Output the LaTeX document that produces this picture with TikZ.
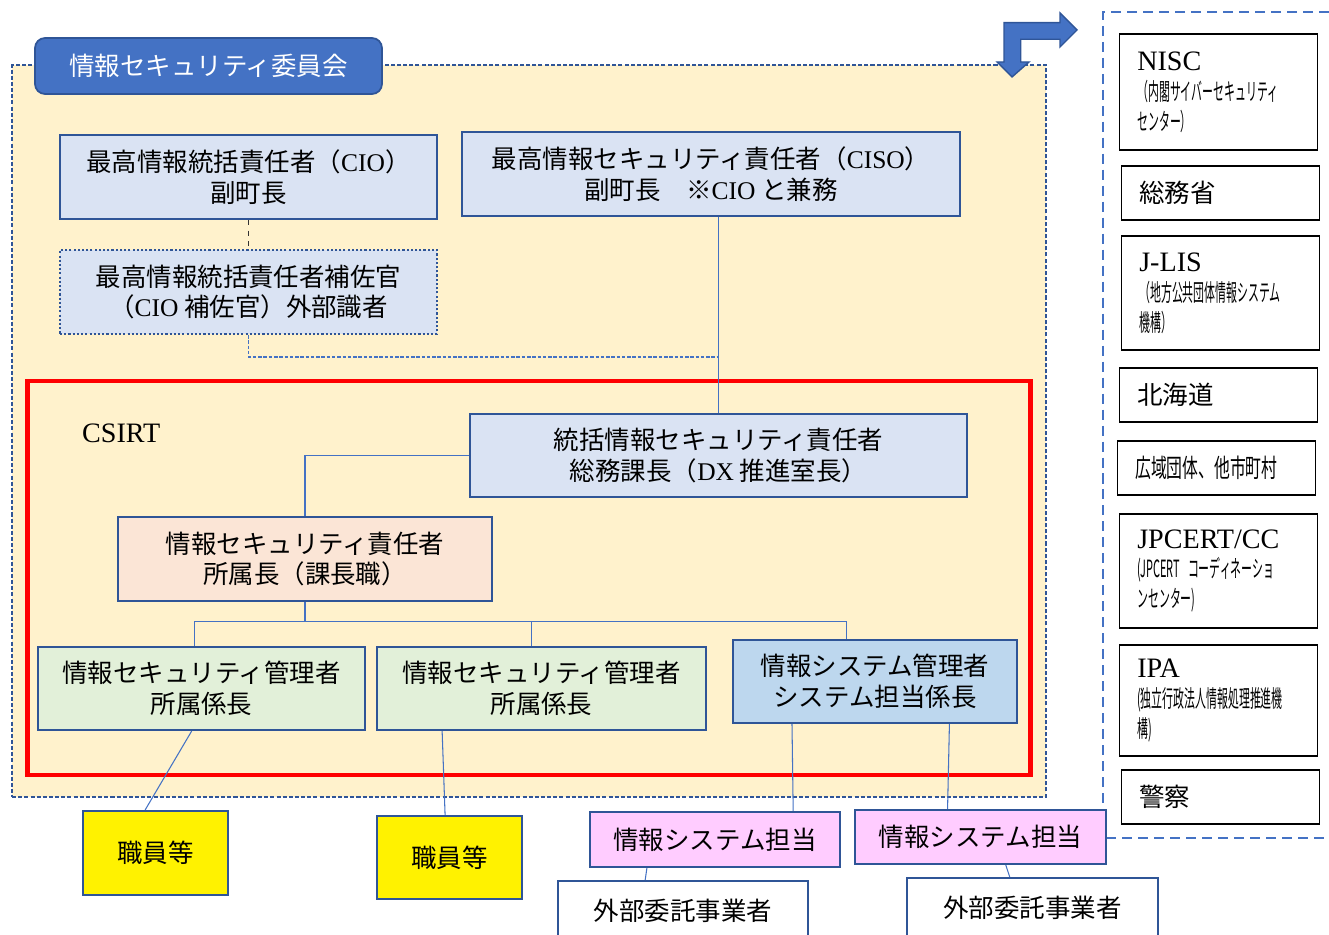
\documentclass[tikz,border=0pt]{standalone}
\usepackage{fontspec}
\setmainfont{Noto Sans CJK JP}
\newfontfamily\latinserif{Liberation Serif}
\newfontfamily\cjknarrow[FakeStretch=0.46]{Noto Sans CJK JP}
\newfontfamily\cjksemi[FakeStretch=0.62]{Noto Sans CJK JP}
\usepackage{tikz}
\usetikzlibrary{positioning,calc}

\definecolor{tan}{HTML}{FFF2CC}
\definecolor{dkblue}{HTML}{2F5597}
\definecolor{accent}{HTML}{4472C4}
\definecolor{lineblue}{HTML}{4472C4}
\definecolor{boxblue}{HTML}{DAE3F3}
\definecolor{peach}{HTML}{FBE5D6}
\definecolor{mgrgreen}{HTML}{E2F0D9}
\definecolor{sysblue}{HTML}{BDD7EE}
\definecolor{pinkbox}{HTML}{FFCCFF}

\begin{document}
\begin{tikzpicture}[x=0.02cm, y=-0.02cm,
  box/.style={draw=dkblue, line width=1.3pt, align=center, inner sep=0pt, font=\fontsize{14.5}{17.5}\selectfont},
  org/.style={draw=black, line width=0.8pt, fill=white, align=left, text width=3.25cm, inner xsep=0.35cm, inner ysep=0pt, font=\fontsize{14.5}{17}\selectfont},
  link/.style={draw=lineblue, line width=0.6pt}]

\useasboundingbox (0,0) rectangle (1329,935);

% committee area
\node[draw=dkblue, line width=1.2pt, dash pattern=on 2.3pt off 1.2pt, fill=tan, minimum width=20.68cm, minimum height=14.64cm, inner sep=0pt] (committee) at (529,431) {};
\node[rounded corners=0.2cm, fill=accent, draw=dkblue, line width=1pt, text=white, minimum width=6.94cm, minimum height=1.12cm, font=\fontsize{14.5}{17}\selectfont] (title) at (208.5,66) {情報セキュリティ委員会};

% bent arrow
\filldraw[fill=accent, draw=dkblue, line width=0.8pt] (1012,77) -- (1029,62) -- (1020.7,62) -- (1020.7,39.3) -- (1060,39.3) -- (1060,47) -- (1077,30) -- (1060,13) -- (1060,22.7) -- (1004,22.7) -- (1004,62) -- (997,62) -- cycle;

% outside organisations
\draw[accent, line width=1.3pt, dash pattern=on 5.7pt off 3.4pt] (1329,12) -| (1103,838) -- (1329,838);

\node[org, minimum height=2.32cm, font=\fontsize{13.5}{17}\selectfont] (nisc) at (1218.5,92) {{\latinserif\fontsize{16}{17}\selectfont NISC}\\{\cjknarrow （内閣サイバーセキュリティ}\\{\cjknarrow センター）}};
\node[org, minimum height=1.08cm] (soumu) at (1220.5,193) {総務省};
\node[org, minimum height=2.28cm, font=\fontsize{13.5}{17}\selectfont] (jlis) at (1220.5,293) {{\latinserif\fontsize{16}{17}\selectfont J-LIS}\\{\cjknarrow （地方公共団体情報システム}\\{\cjknarrow 機構）}};
\node[org, minimum height=1.08cm] (hokkaido) at (1218.5,395) {北海道};
\node[org, minimum height=1.08cm] (kouiki) at (1216.5,468) {\cjksemi 広域団体、他市町村};
\node[org, minimum height=2.28cm, font=\fontsize{13.5}{17}\selectfont] (jpcert) at (1218.5,571) {{\latinserif\fontsize{16}{17}\selectfont JPCERT/CC}\\{\cjknarrow (JPCERT~コーディネーショ}\\{\cjknarrow ンセンター)}};
\node[org, minimum height=2.22cm, font=\fontsize{13.5}{17}\selectfont] (ipa) at (1218.5,700.5) {{\latinserif\fontsize{16}{17}\selectfont IPA}\\{\cjknarrow (独立行政法人情報処理推進機}\\{\cjknarrow 構)}};
\node[org, minimum height=1.08cm] (police) at (1220.5,797) {警察};

% top level
\node[box, fill=boxblue, minimum width=7.54cm, minimum height=1.68cm] (cio) at (248.5,177) {最高情報統括責任者（{\latinserif CIO}）\\副町長};
\node[box, fill=boxblue, minimum width=9.96cm, minimum height=1.68cm] (ciso) at (711,174) {最高情報セキュリティ責任者（{\latinserif CISO}）\\副町長　※{\latinserif CIO} と兼務};
\node[box, fill=boxblue, line width=1.2pt, dash pattern=on 1.2pt off 1.2pt, minimum width=7.54cm, minimum height=1.68cm] (cioa) at (248.5,292) {最高情報統括責任者補佐官\\（{\latinserif CIO} 補佐官）外部識者};

% CSIRT
\node[draw=red, line width=2.8pt, minimum width=20.08cm, minimum height=7.88cm, inner sep=0pt] (csirt) at (529,578) {};
\node[anchor=west, font=\latinserif\fontsize{16}{18}\selectfont] (csirtlabel) at (76,433) {CSIRT};

\node[box, fill=boxblue, minimum width=9.94cm, minimum height=1.66cm] (tokatsu) at (718.5,455.5) {統括情報セキュリティ責任者\\総務課長（{\latinserif DX} 推進室長）};
\node[box, fill=peach, minimum width=7.48cm, minimum height=1.68cm] (sekinin) at (305,559) {情報セキュリティ責任者\\所属長（課長職）};
\node[box, fill=mgrgreen, minimum width=6.54cm, minimum height=1.66cm] (mgr1) at (201.5,688.5) {情報セキュリティ管理者\\所属係長};
\node[box, fill=mgrgreen, minimum width=6.58cm, minimum height=1.66cm] (mgr2) at (541.5,688.5) {情報セキュリティ管理者\\所属係長};
\node[box, fill=sysblue, minimum width=5.68cm, minimum height=1.66cm] (sysmgr) at (875,681.5) {情報システム管理者\\システム担当係長};

% below the committee
\node[box, fill=yellow, minimum width=2.9cm, minimum height=1.68cm] (staff1) at (155.5,853) {職員等};
\node[box, fill=yellow, minimum width=2.9cm, minimum height=1.66cm] (staff2) at (449.5,857.5) {職員等};
\node[box, fill=pinkbox, minimum width=5cm, minimum height=1.1cm] (pink1) at (715,839.5) {情報システム担当};
\node[box, fill=pinkbox, minimum width=5.02cm, minimum height=1.08cm] (pink2) at (980.5,837) {情報システム担当};
\node[box, fill=white, anchor=north, minimum width=5cm, minimum height=1.2cm] (gaibu1) at (683,880) {外部委託事業者};
\node[box, fill=white, anchor=north, minimum width=5.02cm, minimum height=1.2cm] (gaibu2) at (1032.5,877) {外部委託事業者};

% connectors
\draw[black!80, line width=0.6pt, dashed] (cio.south) -- (cioa.north);
\coordinate (join) at (718.5,357);
\draw[link, dash pattern=on 2pt off 1pt] (cioa.south) |- (join);
\draw[link] (tokatsu.north) -- (tokatsu.north |- ciso.south);
\draw[link] (tokatsu.west) -| (sekinin.north);
\draw[link] (sekinin.south) -- ++(0,19) coordinate (bus);
\coordinate (m1) at ($(mgr1.north west)!0.48!(mgr1.north east)$);
\coordinate (m2) at ($(mgr2.north west)!0.47!(mgr2.north east)$);
\coordinate (m3) at ($(sysmgr.north west)!0.4!(sysmgr.north east)$);
\draw[link] (m1) |- (bus -| m3) -- (m3);
\draw[link] (m2) -- (m2 |- bus);

\foreach \a/\p/\b/\q in {mgr1/0.47/staff1/0.43, mgr2/0.2/staff2/0.47, sysmgr/0.21/pink1/0.81, sysmgr/0.76/pink2/0.37, pink1/0.23/gaibu1/0.35, pink2/0.6/gaibu2/0.41} {
    \draw[link] ($(\a.south west)!\p!(\a.south east)$) -- ($(\b.north west)!\q!(\b.north east)$);
}

\end{tikzpicture}
\end{document}
